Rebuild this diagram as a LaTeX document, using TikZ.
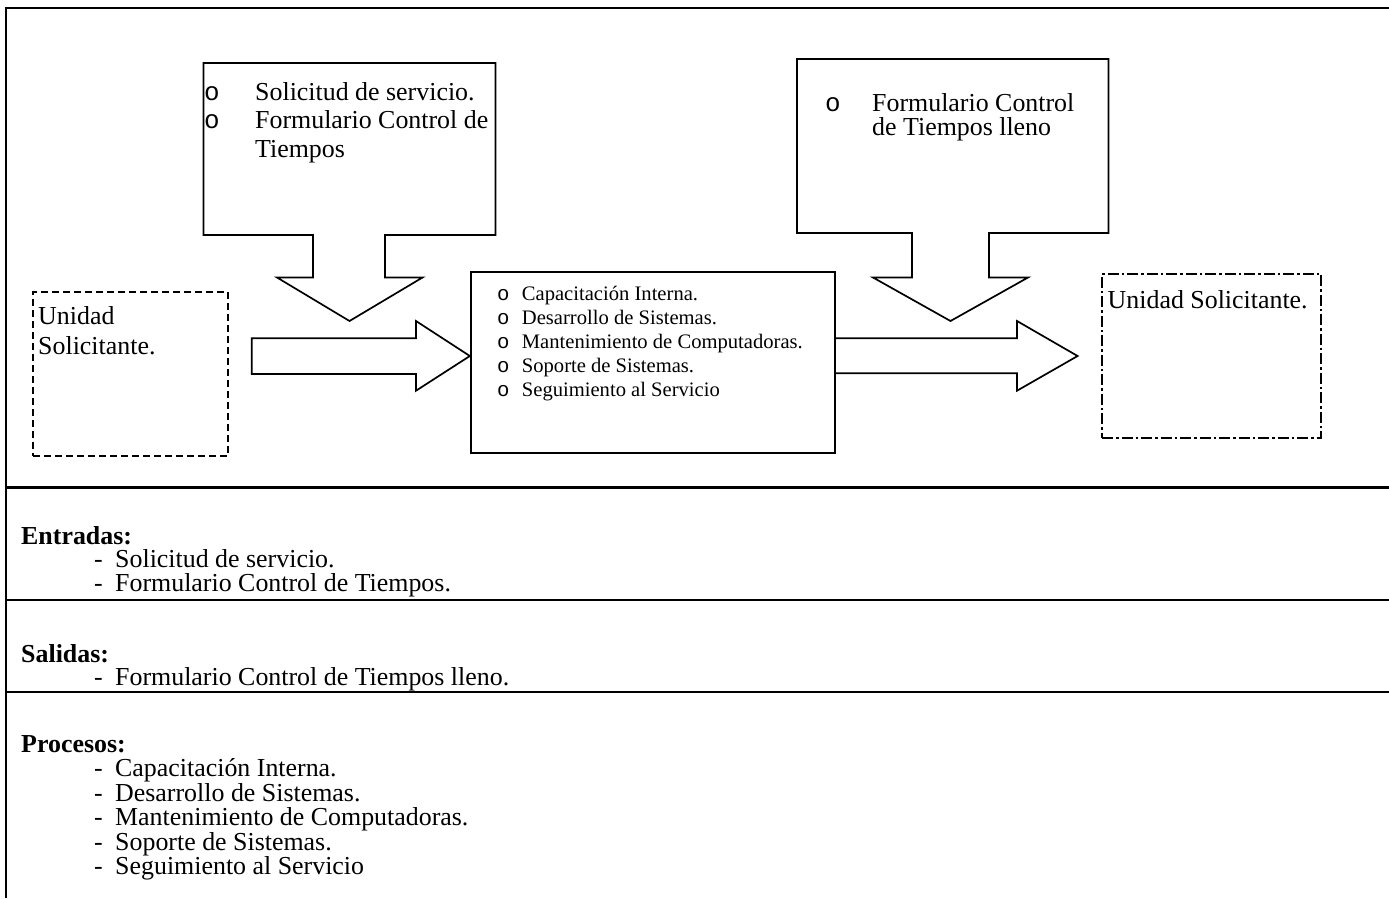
\documentclass[tikz,border=0pt]{standalone}
\usepackage{fontspec}
\setmainfont{Liberation Serif}
\newfontfamily\bulletfont{Liberation Mono}
\usetikzlibrary{calc}
\begin{document}
\begin{tikzpicture}[x=1pt,y=-1pt,
  framethick/.style={line width=2.8pt},
  framethin/.style={line width=1.3pt},
  outline/.style={draw=black,line width=1.7pt,line join=miter,fill=white},
  procbox/.style={draw=black,line width=1.7pt,minimum width=364.3pt,minimum height=181.3pt,inner sep=0pt},
  dashbox/.style={draw=black,line width=1.7pt,dash pattern=on 7pt off 4pt,inner sep=0pt},
  dashdotbox/.style={draw=black,line width=1.7pt,dash pattern=on 11pt off 3pt on 2.5pt off 3pt,inner sep=0pt},
  bigtxt/.style={font=\fontsize{25.9}{30}\selectfont,inner sep=0pt,anchor=base west},
  bigbold/.style={font=\fontsize{25.9}{30}\selectfont\bfseries,inner sep=0pt,anchor=base west},
  smalltxt/.style={font=\fontsize{20.6}{24}\selectfont,inner sep=0pt,anchor=base west},
  bigbul/.style={font=\fontsize{25.9}{30}\bulletfont,inner sep=0pt,anchor=base west},
  smallbul/.style={font=\fontsize{20.6}{24}\bulletfont,inner sep=0pt,anchor=base west}
]
\useasboundingbox (0,0) rectangle (1389,898);

% ---- table frame ----
\draw[framethick] (4.6,8) -- (1389,8);
\draw[line width=2.4pt] (6,8) -- (6,898);
\draw[framethick] (6,487.5) -- (1389,487.5);
\draw[framethin] (6,600) -- (1389,600);
\draw[framethick] (6,692) -- (1389,692);

% ---- input callout (down arrow) ----
\draw[outline] (203.5,63) -- (495.5,63) -- (495.5,235) -- (385,235) -- (385,277.5)
  -- (422.5,277.5) -- (349.5,321) -- (277,277.5) -- (313,277.5) -- (313,235)
  -- (203.5,235) -- cycle;
\node[bigbul] (inb1) at (204,100) {o};
\node[bigtxt] (in1) at (255,100) {Solicitud de servicio.};
\node[bigbul] (inb2) at (204,128.5) {o};
\node[bigtxt] (in2) at (255,128.5) {Formulario Control de};
\node[bigtxt] (in3) at (255,157) {Tiempos};

% ---- output callout (down arrow) ----
\draw[outline] (797,59) -- (1108.5,59) -- (1108.5,233) -- (989,233) -- (989,277.5)
  -- (1028,277.5) -- (950.5,321) -- (873,277.5) -- (912,277.5) -- (912,233)
  -- (797,233) -- cycle;
\node[bigbul] (outb1) at (825,111) {o};
\node[bigtxt] (out1) at (872,111) {Formulario Control};
\node[bigtxt] (out2) at (872,135) {de Tiempos lleno};

% ---- requesting unit (source) ----
\node[dashbox,minimum width=195pt,minimum height=164pt] (src) at (130.8,374) {};
\node[bigtxt] (src1) at (38,324) {Unidad};
\node[bigtxt] (src2) at (38,354) {Solicitante.};

% ---- process box ----
\node[procbox] (proc) at (652.85,362.35) {};
\node[smallbul] (pb1) at (497,300) {o};
\node[smalltxt] (p1) at (521.7,300) {Capacitación Interna.};
\node[smallbul] (pb2) at (497,324) {o};
\node[smalltxt] (p2) at (521.7,324) {Desarrollo de Sistemas.};
\node[smallbul] (pb3) at (497,348) {o};
\node[smalltxt] (p3) at (521.7,348) {Mantenimiento de Computadoras.};
\node[smallbul] (pb4) at (497,372) {o};
\node[smalltxt] (p4) at (521.7,372) {Soporte de Sistemas.};
\node[smallbul] (pb5) at (497,396) {o};
\node[smalltxt] (p5) at (521.7,396) {Seguimiento al Servicio};

% ---- requesting unit (destination) ----
\node[dashdotbox,minimum width=219pt,minimum height=163.7pt] (dst) at (1211.5,355.85) {};
\node[bigtxt] (dst1) at (1107.5,308) {Unidad Solicitante.};

% ---- block arrows ----
\draw[outline] (251.7,338.3) -- (416,338.3) -- (416,321) -- (proc.west |- 0,356)
  -- (416,390.7) -- (416,374) -- (251.7,374) -- cycle;
\draw[outline,fill=none] (proc.east |- 0,338.3) -- (1017,338.3) -- (1017,321) -- (1077.6,356)
  -- (1017,390.7) -- (1017,373.3) -- (proc.east |- 0,373.3);

% ---- lower sections ----
\node[bigbold] (hin) at (21,544.5) {Entradas:};
\node[bigtxt] (d1) at (94,567) {-};
\node[bigtxt] (e1) at (115,567) {Solicitud de servicio.};
\node[bigtxt] (d2) at (94,591.5) {-};
\node[bigtxt] (e2) at (115,591.5) {Formulario Control de Tiempos.};

\node[bigbold] (hout) at (21,662) {Salidas:};
\node[bigtxt] (d3) at (94,685) {-};
\node[bigtxt] (s1) at (115,685) {Formulario Control de Tiempos lleno.};

\node[bigbold] (hproc) at (21,752) {Procesos:};
\node[bigtxt] (d4) at (94,776.5) {-};
\node[bigtxt] (r1) at (115,776.5) {Capacitación Interna.};
\node[bigtxt] (d5) at (94,801) {-};
\node[bigtxt] (r2) at (115,801) {Desarrollo de Sistemas.};
\node[bigtxt] (d6) at (94,825.5) {-};
\node[bigtxt] (r3) at (115,825.5) {Mantenimiento de Computadoras.};
\node[bigtxt] (d7) at (94,850) {-};
\node[bigtxt] (r4) at (115,850) {Soporte de Sistemas.};
\node[bigtxt] (d8) at (94,874.5) {-};
\node[bigtxt] (r5) at (115,874.5) {Seguimiento al Servicio};
\end{tikzpicture}
\end{document}
